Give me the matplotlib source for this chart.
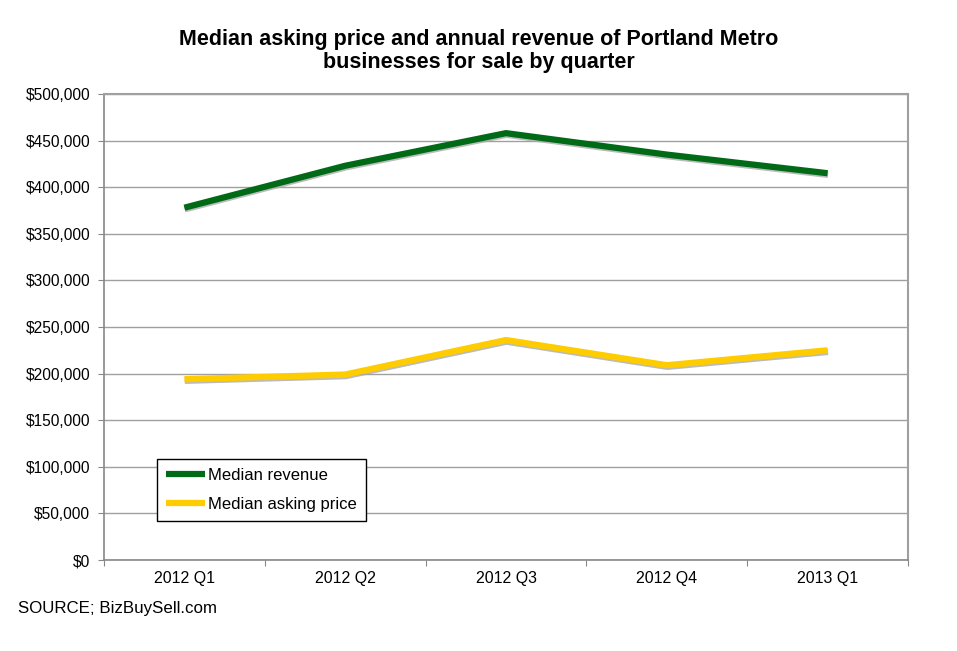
import matplotlib
matplotlib.use('Agg')
import matplotlib.pyplot as plt
import matplotlib.patheffects as pe
import numpy as np
from matplotlib.ticker import FuncFormatter, FixedLocator

# data
quarters = ['2012 Q1', '2012 Q2', '2012 Q3', '2012 Q4', '2013 Q1']
median_revenue = [378000, 423000, 458000, 435000, 415000]
median_asking = [194000, 199000, 236000, 209000, 225000]

plt.rcParams['font.family'] = ['Liberation Sans', 'DejaVu Sans']

fig = plt.figure(figsize=(9.57, 6.51), dpi=100)
ax = fig.add_axes([104/957, 1-560/651, 804/957, 466/651])

x = np.arange(len(quarters)) + 0.5
shadow = [pe.SimpleLineShadow(offset=(0.3, -1.2), shadow_color='#aaaaaa', alpha=0.8), pe.Normal()]
ax.plot(x, median_revenue, color='#006a16', lw=4.5, solid_capstyle='butt',
        label='Median revenue', path_effects=shadow)
ax.plot(x, median_asking, color='#ffcc00', lw=4.5, solid_capstyle='butt',
        label='Median asking price', path_effects=shadow)

ax.set_xlim(0, len(quarters))
ax.set_ylim(0, 500000)
ax.set_yticks(np.arange(0, 500001, 50000))
ax.yaxis.set_major_formatter(FuncFormatter(lambda v, p: '${:,.0f}'.format(v)))
ax.xaxis.set_major_locator(FixedLocator(np.arange(0, len(quarters) + 1)))
ax.xaxis.set_minor_locator(FixedLocator(x))
ax.set_xticklabels([])
ax.set_xticklabels(quarters, minor=True)
ax.tick_params(axis='x', which='minor', length=0, pad=8, labelsize=11.5)
ax.tick_params(axis='x', which='major', length=4, color='#888888')
ax.tick_params(axis='y', length=4, color='#888888', labelsize=11.2, pad=6)
ax.grid(axis='y', color='#a0a0a0', lw=1)
ax.set_axisbelow(True)
for s in ['top', 'right']:
    ax.spines[s].set_color('#a0a0a0')
    ax.spines[s].set_linewidth(1.5)
for s in ['left', 'bottom']:
    ax.spines[s].set_color('#888888')
    ax.spines[s].set_linewidth(1.2)

leg = ax.legend(loc='lower left', bbox_to_anchor=(53/804, 39/466), fancybox=False,
                edgecolor='black', framealpha=1, fontsize=12, handlelength=2.3,
                handletextpad=0.2, borderpad=0.55, labelspacing=0.85, borderaxespad=0)
leg.get_frame().set_linewidth(1)
for h in leg.get_lines():
    h.set_path_effects([])

fig.text(0.5, 1-51/651, 'Median asking price and annual revenue of Portland Metro\nbusinesses for sale by quarter',
         ha='center', va='center', fontsize=15.5, fontweight='bold',
         family=['Liberation Sans Narrow', 'Liberation Sans', 'DejaVu Sans'], linespacing=1.1)
fig.text(18/957, 1-608/651, 'SOURCE; BizBuySell.com', ha='left', va='center', fontsize=12.2)

fig.savefig('out.png', dpi=100)
